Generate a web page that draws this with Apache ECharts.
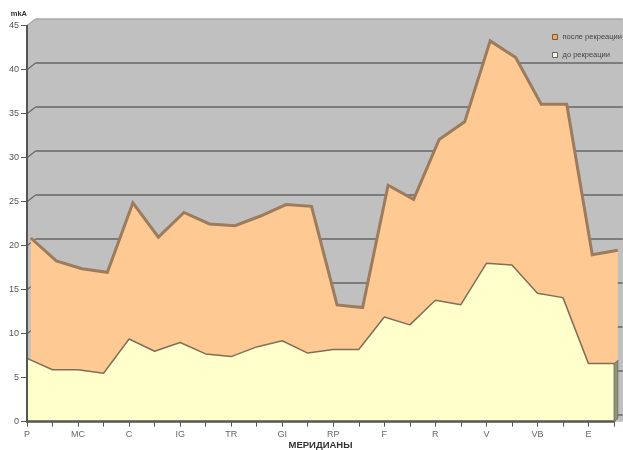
<!DOCTYPE html>
<html>
<head>
<meta charset="utf-8">
<script src="https://cdn.jsdelivr.net/npm/echarts@6/dist/echarts.min.js"></script>
<style>
html,body{margin:0;padding:0;background:#fff;}
#chart{width:623px;height:450px;}
</style>
</head>
<body>
<div id="chart"></div>
<script>
const categories = ['P','P','MC','MC','C','C','IG','IG','TR','TR','GI','GI','RP','RP','F','F','R','R','V','V','VB','VB','E','E'];
const afterRecreation = [20.5, 17.9, 17.0, 16.6, 24.5, 20.6, 23.4, 22.1, 21.9, 23.0, 24.3, 24.1, 12.9, 12.6, 26.5, 24.9, 31.7, 33.7, 42.9, 41.0, 35.7, 35.7, 18.6, 19.1];
const beforeRecreation = [7.2, 5.9, 5.9, 5.5, 9.4, 8.0, 9.0, 7.7, 7.4, 8.5, 9.2, 7.8, 8.2, 8.2, 11.9, 11.0, 13.8, 13.3, 18.0, 17.8, 14.6, 14.1, 6.6, 6.6];
const yMin = 0, yMax = 45, yStep = 5;
const seriesNames = ['после рекреации', 'до рекреации'];
const yUnit = 'mkA';
const xTitle = 'МЕРИДИАНЫ';

const FONT = 'Liberation Sans';
const chart = echarts.init(document.getElementById('chart'), null, {renderer: 'canvas'});

// depth offsets (pseudo-3D)
const FRONT = {left: 27, top: 25.7, width: 587, height: 396};
const MID = {left: 30.8, top: 22.4, width: 587, height: 396};
const BACK = {left: 35.6, top: 19, width: 587, height: 396};

const gridOf = (o) => Object.assign({containLabel: false, outerBoundsMode: 'none'}, o);
const hiddenCat = (gi) => ({type: 'category', gridIndex: gi, data: categories, boundaryGap: false, show: false});
const hiddenVal = (gi) => ({type: 'value', gridIndex: gi, min: yMin, max: yMax, interval: yStep, show: false, splitLine: {show: false}});

const splitColors = [];
for (let v = yMin; v <= yMax; v += yStep) splitColors.push(v === yMax ? '#a8a8a8' : '#666666');

chart.setOption({
  animation: false,
  textStyle: {fontFamily: FONT},
  grid: [gridOf(FRONT), gridOf(BACK), gridOf(MID)],
  legend: {
    orient: 'vertical',
    left: 547, top: 28,
    itemWidth: 5, itemHeight: 5, itemGap: 10,
    icon: 'rect',
    textStyle: {fontSize: 7.5, color: '#444', fontFamily: FONT},
    data: [
      {name: seriesNames[0], itemStyle: {color: '#f0a860', borderColor: '#7a5a3a', borderWidth: 1}},
      {name: seriesNames[1], itemStyle: {color: '#ffffe0', borderColor: '#666', borderWidth: 1}}
    ]
  },
  xAxis: [
    {
      type: 'category', gridIndex: 0, data: categories, boundaryGap: false,
      axisLine: {show: true, lineStyle: {color: '#555', width: 2.5}},
      axisTick: {show: true, interval: 0, length: 5, lineStyle: {color: '#555', width: 1}},
      axisLabel: {interval: 1, fontSize: 9, color: '#666', margin: 8, fontFamily: FONT},
      name: xTitle, nameLocation: 'middle', nameGap: 19, nameMoveOverlap: false,
      nameTextStyle: {fontSize: 9.5, fontWeight: 'bold', color: '#333', fontFamily: FONT},
      splitLine: {show: false}, z: 10
    },
    hiddenCat(1),
    hiddenCat(2)
  ],
  yAxis: [
    {
      type: 'value', gridIndex: 0, min: yMin, max: yMax, interval: yStep,
      axisLine: {show: true, lineStyle: {color: '#555', width: 2}},
      axisTick: {show: true, length: 6, lineStyle: {color: '#555', width: 1}},
      axisLabel: {fontSize: 9, color: '#555', margin: 8, fontFamily: FONT},
      splitLine: {show: false},
      name: yUnit, nameLocation: 'end', nameGap: 8,
      nameTextStyle: {fontSize: 7.5, fontWeight: 'bold', color: '#333', align: 'right', fontFamily: FONT},
      z: 10
    },
    {
      type: 'value', gridIndex: 1, min: yMin, max: yMax, interval: yStep,
      axisLine: {show: false}, axisTick: {show: false}, axisLabel: {show: false},
      splitLine: {show: true, lineStyle: {color: splitColors, width: 1.5}}
    },
    hiddenVal(2)
  ],
  series: [
    {
      name: seriesNames[0], type: 'line', xAxisIndex: 2, yAxisIndex: 2,
      data: afterRecreation, symbol: 'none', z: 3,
      lineStyle: {color: '#9c7c5c', width: 3, join: 'miter'},
      itemStyle: {color: '#f0a860'},
      areaStyle: {color: '#ffc993', opacity: 1}
    },
    {
      name: seriesNames[1], type: 'line', xAxisIndex: 0, yAxisIndex: 0,
      data: beforeRecreation, symbol: 'none', z: 4,
      lineStyle: {color: '#7f6f58', width: 1.5},
      itemStyle: {color: '#ffffcc'},
      areaStyle: {color: '#ffffcc', opacity: 1}
    }
  ]
});

// decorations: background walls and side-wall grid lines computed through the axes
const g = [];
const y0 = chart.convertToPixel({yAxisIndex: 0}, yMin);
const yTop = chart.convertToPixel({yAxisIndex: 0}, yMax);
const dx = BACK.left - FRONT.left, dy = BACK.top - FRONT.top;
g.push({type: 'rect', z: -10, silent: true,
  shape: {x: FRONT.left, y: yTop + dy, width: 623 - FRONT.left, height: y0 - (yTop + dy)},
  style: {fill: '#c0c0c0'}});
g.push({type: 'polygon', z: -9, silent: true,
  shape: {points: [[FRONT.left - 1, yTop], [FRONT.left + dx, yTop + dy - 0.5], [FRONT.left - 1, yTop + dy - 0.5]]},
  style: {fill: '#ffffff'}});
for (let v = yMin + yStep; v <= yMax; v += yStep) {
  const y = chart.convertToPixel({yAxisIndex: 0}, v);
  g.push({type: 'line', z: -8, silent: true,
    shape: {x1: FRONT.left, y1: y, x2: FRONT.left + dx, y2: y + dy},
    style: {stroke: v === yMax ? '#a8a8a8' : '#666666', lineWidth: 1.2}});
}
// right side face of the front series
const last = categories.length - 1;
const pF = chart.convertToPixel({xAxisIndex: 0, yAxisIndex: 0}, [last, beforeRecreation[last]]);
const pB = chart.convertToPixel({xAxisIndex: 0, yAxisIndex: 0}, [last, yMin]);
const mdx = MID.left - FRONT.left, mdy = MID.top - FRONT.top;
g.push({type: 'polygon', z: 100, silent: true,
  shape: {points: [[pF[0], pF[1]], [pF[0] + mdx, pF[1] + mdy], [pB[0] + mdx, pB[1] + mdy], [pB[0], pB[1]]]},
  style: {fill: '#8e9478', stroke: '#6a6a58', lineWidth: 0.8}});
chart.setOption({graphic: g});
</script>
</body>
</html>
